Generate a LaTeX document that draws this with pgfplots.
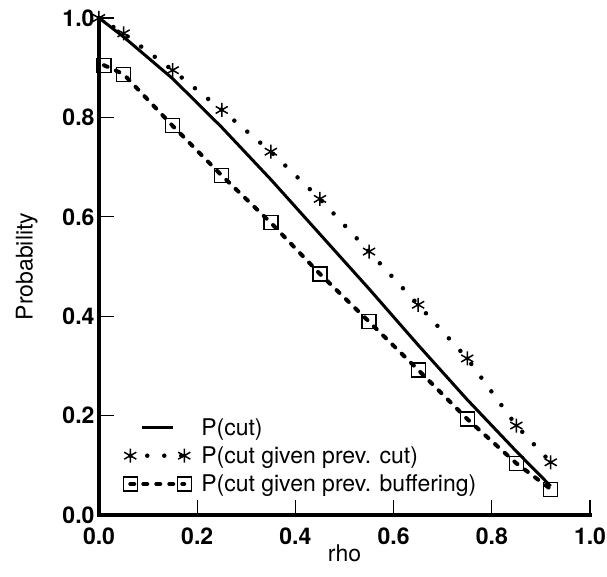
\documentclass[border=0pt]{standalone}
\usepackage{pgfplots}
\pgfplotsset{compat=1.18}
\usepackage{pgfplotstable}
\usepackage{fontspec}
\setmainfont{TeX Gyre Heros}

% Probability of a cut as a function of the load rho
\pgfplotstableread{
rho   p
0.00  1.000
0.05  0.962
0.15  0.878
0.25  0.780
0.35  0.675
0.45  0.565
0.55  0.455
0.65  0.342
0.75  0.232
0.85  0.128
0.92  0.058
}\pcut

\pgfplotstableread{
rho   p
0.00  1.000
0.05  0.969
0.15  0.895
0.25  0.815
0.35  0.731
0.45  0.636
0.55  0.530
0.65  0.423
0.75  0.315
0.85  0.180
0.92  0.106
}\pcutcut

\pgfplotstableread{
rho   p
0.01  0.905
0.05  0.887
0.15  0.783
0.25  0.683
0.35  0.588
0.45  0.485
0.55  0.389
0.65  0.292
0.75  0.193
0.85  0.104
0.92  0.052
}\pcutbuf

\pgfplotsset{
  endmarks legend/.style={legend image code/.code={
      \draw[##1] (0pt,0pt) -- (54pt,0pt);
      \draw[##1] plot[only marks] coordinates {(0pt,0pt) (54pt,0pt)};
  }},
  short legend/.style={legend image code/.code={
      \draw[##1] (12pt,0pt) -- (43pt,0pt);
  }},
}

\begin{document}
\begin{tikzpicture}
\begin{axis}[
  name=ax,
  scale only axis,
  width=491pt, height=497pt,
  xmin=0, xmax=1, ymin=0, ymax=1,
  axis x line=bottom, axis y line=left,
  axis line style={-, line width=3.5pt, line cap=rect},
  xtick={0,0.2,...,1.0}, ytick={0,0.2,...,1.0},
  tick align=inside,
  major tick length=15pt,
  tick style={line width=1.3pt, black},
  minor tick num=0,
  /pgf/number format/assume math mode=true,
  /pgf/number format/.cd, fixed, fixed zerofill, precision=1, /pgfplots/.cd,
  ticklabel style={font=\fontsize{23}{27}\selectfont\bfseries},
  xticklabel style={yshift=-9pt},
  yticklabel style={xshift=-1pt},
  xlabel={rho},
  ylabel={Probability},
  label style={font=\fontsize{23}{27}\selectfont},
  xlabel style={yshift=7pt},
  ylabel style={yshift=18pt},
  clip=false,
  legend cell align=left,
  legend style={
    at={(rel axis cs:0.049,0.197)}, anchor=north west,
    draw=none, fill=none, inner sep=0pt,
    font=\fontsize{23}{27}\selectfont,
    nodes={inner sep=1pt},
    row sep=8pt, column sep=9pt,
  },
]
\addplot[black, line width=3pt, short legend] table[x=rho, y=p] {\pcut};
\addlegendentry{P(cut)}

\addplot[black, line width=4.5pt, line cap=round, dash pattern=on 0pt off 17pt,
  mark=asterisk, mark size=7pt,
  mark options={solid, line width=1.5pt, line cap=butt},
  endmarks legend] table[x=rho, y=p] {\pcutcut};
\addlegendentry{P(cut given prev. cut)}

\addplot[black, line width=4pt, line cap=round, dash pattern=on 4pt off 9pt,
  mark=square, mark size=7pt,
  mark options={solid, line width=1.3pt, fill=none, line cap=butt},
  endmarks legend] table[x=rho, y=p] {\pcutbuf};
\addlegendentry{P(cut given prev. buffering)}
\end{axis}
\pgfresetboundingbox
\path ([shift={(-99pt,-62pt)}]ax.south west) rectangle ([shift={(17pt,18pt)}]ax.north east);
\end{tikzpicture}
\end{document}
